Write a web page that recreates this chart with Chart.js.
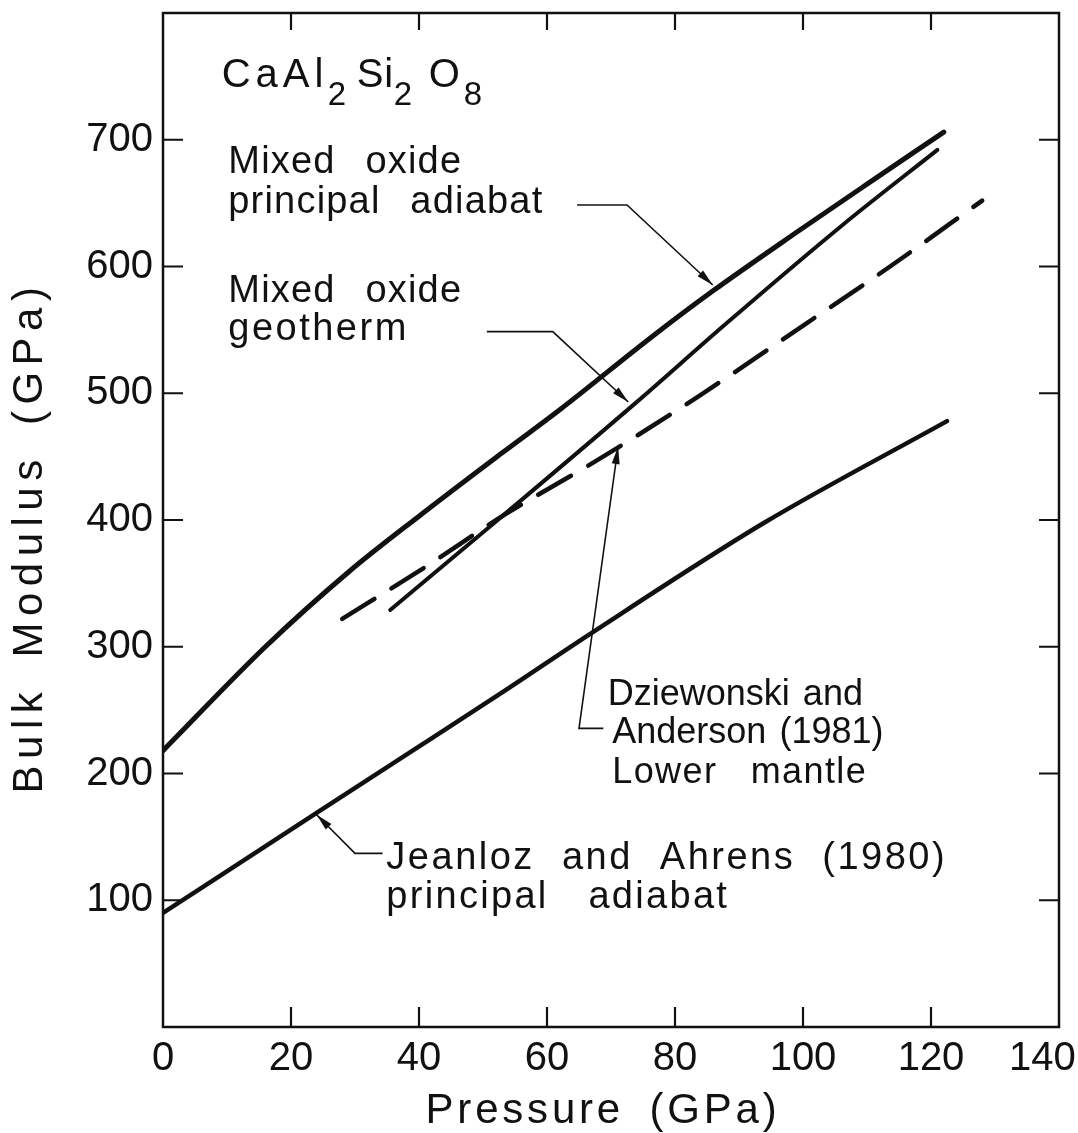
<!DOCTYPE html>
<html>
<head>
<meta charset="utf-8">
<title>CaAl2Si2O8 bulk modulus</title>
<script src="https://cdn.jsdelivr.net/npm/chart.js@4.4.0/dist/chart.umd.min.js"></script>
<style>
  html, body { margin: 0; padding: 0; background: #fff; }
  canvas { display: block; }
</style>
</head>
<body>
<canvas id="bulkChart" width="1078" height="1133"></canvas>
<script>
// pressure (GPa) and bulk modulus (GPa) along each curve
var adiabatP = [0, 16, 29, 40, 53, 62, 76.5, 86, 99, 110, 122];
var adiabatK = [218, 300, 359, 403, 453, 487, 545, 581, 627, 665, 706];

var geothermP = [35.5, 53, 74, 88, 106, 121];
var geothermK = [329, 403, 493, 555, 632, 692];

var mantleP = [28, 41, 53, 67.8, 83.5, 100.2, 113.6, 128];
var mantleK = [322, 363, 403, 447, 497, 554, 600, 652];

var jeanlozP = [0, 24, 39, 53, 67, 94, 122.5];
var jeanlozK = [90, 169, 218, 264, 311, 398, 478];

var pressureTicks = [0, 20, 40, 60, 80, 100, 120, 140];
var modulusTicks = [100, 200, 300, 400, 500, 600, 700];

var FONT = '"Liberation Sans", Arial, sans-serif';
var INK = '#111';

function pairs(xs, ys) {
  return xs.map(function (x, i) { return { x: x, y: ys[i] }; });
}

// labels: anchor is left end of the baseline, in data units
var notes = [
  { text: 'Mixed oxide', p: 10.2, k: 673.5, size: 38, ls: 1.2, ws: 18 },
  { text: 'principal adiabat', p: 10.2, k: 642, size: 38, ls: 1.2, ws: 18 },
  { text: 'Mixed oxide', p: 10.2, k: 572, size: 38, ls: 1.2, ws: 18 },
  { text: 'geotherm', p: 10.2, k: 542, size: 38, ls: 2.5, ws: 18 },
  { text: 'Dziewonski and', p: 69.5, k: 254.2, size: 36, ls: 0, ws: 3 },
  { text: 'Anderson (1981)', p: 70.2, k: 224, size: 36, ls: 0, ws: 3 },
  { text: 'Lower mantle', p: 70.2, k: 192.5, size: 36, ls: 1.4, ws: 22 },
  { text: 'Jeanloz and Ahrens (1980)', p: 34.9, k: 124.8, size: 38, ls: 2.5, ws: 14 },
  { text: 'principal adiabat', p: 34.9, k: 93.7, size: 38, ls: 2.3, ws: 27 }
];

// leader lines, last point is the arrow tip
var leaders = [
  [[64.7, 648.5], [72.5, 648.5], [85.9, 585.4]],
  [[50.6, 548.6], [60.9, 548.6], [72.7, 493.1]],
  [[68.8, 235.6], [65, 235.6], [71.1, 457.6]],
  [[34.3, 137], [30, 137], [24, 167.5]]
];

// chemical formula, pieces and whether they sit low as subscripts
var formula = [['CaAl', 0], ['2', 1], ['Si', 0], ['2', 1], ['O', 0], ['8', 1]];
var formulaOffsets = [0, 106, 135, 172, 207, 242];

var framePlugin = {
  id: 'frame',
  afterDatasetsDraw: function (chart) {
    var ctx = chart.ctx, a = chart.chartArea;
    var xs = chart.scales.x, ys = chart.scales.y;
    var len = 20;
    ctx.save();
    ctx.strokeStyle = INK;
    ctx.lineWidth = 2.5;
    ctx.strokeRect(a.left, a.top, a.right - a.left, a.bottom - a.top);
    ctx.lineWidth = 2.2;
    ctx.beginPath();
    xs.ticks.forEach(function (t) {
      var px = xs.getPixelForValue(t.value);
      if (px <= a.left + 1 || px >= a.right - 1) return;
      ctx.moveTo(px, a.bottom); ctx.lineTo(px, a.bottom - len);
      ctx.moveTo(px, a.top); ctx.lineTo(px, a.top + len - 3);
    });
    ys.ticks.forEach(function (t) {
      var py = ys.getPixelForValue(t.value);
      ctx.moveTo(a.left, py); ctx.lineTo(a.left + len, py);
      ctx.moveTo(a.right, py); ctx.lineTo(a.right - len, py);
    });
    ctx.stroke();
    ctx.restore();
  }
};

function arrowHead(ctx, fx, fy, tx, ty) {
  var ang = Math.atan2(ty - fy, tx - fx);
  var L = 17, W = 4;
  ctx.beginPath();
  ctx.moveTo(tx, ty);
  ctx.lineTo(tx - L * Math.cos(ang) + W * Math.sin(ang), ty - L * Math.sin(ang) - W * Math.cos(ang));
  ctx.lineTo(tx - L * Math.cos(ang) - W * Math.sin(ang), ty - L * Math.sin(ang) + W * Math.cos(ang));
  ctx.closePath();
  ctx.fill();
}

var notesPlugin = {
  id: 'notes',
  afterDraw: function (chart) {
    var ctx = chart.ctx, a = chart.chartArea;
    var xs = chart.scales.x, ys = chart.scales.y;
    ctx.save();
    ctx.fillStyle = INK;
    ctx.strokeStyle = INK;
    ctx.textAlign = 'left';
    ctx.textBaseline = 'alphabetic';

    notes.forEach(function (n) {
      ctx.font = n.size + 'px ' + FONT;
      ctx.letterSpacing = n.ls + 'px';
      ctx.wordSpacing = n.ws + 'px';
      ctx.fillText(n.text, xs.getPixelForValue(n.p), ys.getPixelForValue(n.k));
    });

    // formula in the upper left corner
    var fx = xs.getPixelForValue(9.17), fy = ys.getPixelForValue(741.9);
    ctx.wordSpacing = '0px';
    formula.forEach(function (f, i) {
      ctx.letterSpacing = i === 0 ? '5px' : '1px';
      ctx.font = (f[1] ? 33 : 40) + 'px ' + FONT;
      ctx.fillText(f[0], fx + formulaOffsets[i], fy + (f[1] ? 18.5 : 0));
    });

    ctx.lineWidth = 1.6;
    leaders.forEach(function (pts) {
      var px = pts.map(function (p) { return [xs.getPixelForValue(p[0]), ys.getPixelForValue(p[1])]; });
      ctx.beginPath();
      ctx.moveTo(px[0][0], px[0][1]);
      for (var i = 1; i < px.length; i++) ctx.lineTo(px[i][0], px[i][1]);
      ctx.stroke();
      var n = px.length;
      arrowHead(ctx, px[n - 2][0], px[n - 2][1], px[n - 1][0], px[n - 1][1]);
    });

    // axis titles
    ctx.textAlign = 'center';
    ctx.font = '42px ' + FONT;
    ctx.letterSpacing = '3.8px';
    ctx.wordSpacing = '10px';
    ctx.fillText('Pressure (GPa)', (a.left + a.right) / 2 - 8, 1123);
    ctx.translate(42, 537);
    ctx.rotate(-Math.PI / 2);
    ctx.letterSpacing = '6.5px';
    ctx.fillText('Bulk Modulus (GPa)', 0, 0);
    ctx.restore();
  }
};

new Chart(document.getElementById('bulkChart'), {
  type: 'scatter',
  data: {
    datasets: [
      { label: 'Mixed oxide principal adiabat', data: pairs(adiabatP, adiabatK), borderWidth: 5, cubicInterpolationMode: 'monotone' },
      { label: 'Mixed oxide geotherm', data: pairs(geothermP, geothermK), borderWidth: 4, cubicInterpolationMode: 'monotone' },
      { label: 'Dziewonski and Anderson (1981) lower mantle', data: pairs(mantleP, mantleK), borderWidth: 4.5, borderDash: [38, 20], cubicInterpolationMode: 'monotone' },
      { label: 'Jeanloz and Ahrens (1980) principal adiabat', data: pairs(jeanlozP, jeanlozK), borderWidth: 4.5, cubicInterpolationMode: 'monotone' }
    ].map(function (d) {
      d.showLine = true;
      d.borderColor = INK;
      d.backgroundColor = INK;
      d.pointRadius = 0;
      d.fill = false;
      d.borderCapStyle = 'round';
      return d;
    })
  },
  options: {
    responsive: false,
    animation: false,
    devicePixelRatio: 1,
    layout: { padding: { top: 13, right: 19, left: 0, bottom: 0 } },
    plugins: { legend: { display: false }, tooltip: { enabled: false } },
    scales: {
      x: {
        type: 'linear', min: 0, max: 140,
        afterBuildTicks: function (s) { s.ticks = pressureTicks.map(function (v) { return { value: v }; }); },
        afterFit: function (s) { s.height = 106; s.paddingLeft = 0; s.paddingRight = 0; },
        grid: { display: false, drawTicks: false },
        border: { display: false },
        ticks: {
          color: INK, padding: 8, maxRotation: 0,
          font: { family: FONT, size: 40 },
          // last label is nudged left so it stays on the page
          callback: function (v) { return v === 140 ? '140   ' : String(v); }
        }
      },
      y: {
        type: 'linear', min: 0, max: 800,
        afterBuildTicks: function (s) { s.ticks = modulusTicks.map(function (v) { return { value: v }; }); },
        afterFit: function (s) { s.width = 163; s.paddingTop = 0; s.paddingBottom = 0; },
        grid: { display: false, drawTicks: false },
        border: { display: false },
        ticks: { color: INK, padding: 10, font: { family: FONT, size: 40 } }
      }
    }
  },
  plugins: [framePlugin, notesPlugin]
});
</script>
</body>
</html>
